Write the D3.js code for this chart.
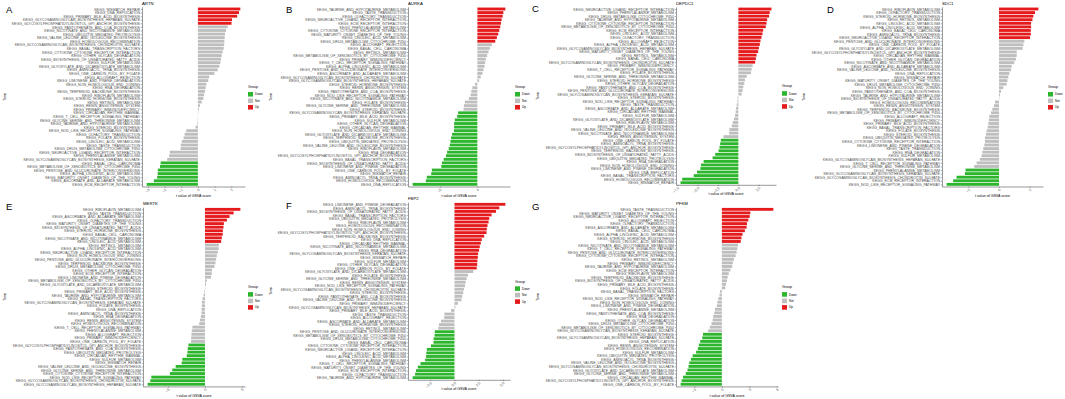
<!DOCTYPE html>
<html>
<head>
<meta charset="utf-8">
<script src="https://cdn.jsdelivr.net/npm/d3@7"></script>
<style>
body { margin: 0; background: #fff; }
svg { display: block; }
</style>
</head>
<body>
<div id="fig"></div>
<script>
// ---- data: terms (KEGG_ prefix added when drawn), t values, [up, not, down] counts, x ticks ----
var artnTerms = ["MISMATCH_REPAIR","DNA_REPLICATION","PRIMARY_BILE_ACID_BIOSYNTHESIS","GLYCOSAMINOGLYCAN_BIOSYNTHESIS_HEPARAN_SULFATE","GLYCOSYLPHOSPHATIDYLINOSITOL_GPI_ANCHOR_BIOSYNTHESIS","PANTOTHENATE_AND_COA_BIOSYNTHESIS","NICOTINATE_AND_NICOTINAMIDE_METABOLISM","UBIQUITIN_MEDIATED_PROTEOLYSIS","VALINE_LEUCINE_AND_ISOLEUCINE_BIOSYNTHESIS","HOMOLOGOUS_RECOMBINATION","GLYCOSAMINOGLYCAN_BIOSYNTHESIS_CHONDROITIN_SULFATE","BASAL_TRANSCRIPTION_FACTORS","CYTOKINE_CYTOKINE_RECEPTOR_INTERACTION","OTHER_GLYCAN_DEGRADATION","BIOSYNTHESIS_OF_UNSATURATED_FATTY_ACIDS","SULFUR_METABOLISM","GLYOXYLATE_AND_DICARBOXYLATE_METABOLISM","AMINOACYL_TRNA_BIOSYNTHESIS","ONE_CARBON_POOL_BY_FOLATE","ALLOGRAFT_REJECTION","LIMONENE_AND_PINENE_DEGRADATION","NON_HOMOLOGOUS_END_JOINING","RNA_DEGRADATION","TERPENOID_BACKBONE_BIOSYNTHESIS","RIBOFLAVIN_METABOLISM","STEROID_HORMONE_BIOSYNTHESIS","RETINOL_METABOLISM","RENIN_ANGIOTENSIN_SYSTEM","PRIMARY_IMMUNODEFICIENCY","CIRCADIAN_RHYTHM_MAMMAL","T_CELL_RECEPTOR_SIGNALING_PATHWAY","GLYCINE_SERINE_AND_THREONINE_METABOLISM","TAURINE_AND_HYPOTAURINE_METABOLISM","STEROID_BIOSYNTHESIS","NOD_LIKE_RECEPTOR_SIGNALING_PATHWAY","OLFACTORY_TRANSDUCTION","FOLATE_BIOSYNTHESIS","LINOLEIC_ACID_METABOLISM","TASTE_TRANSDUCTION","DRUG_METABOLISM_CYTOCHROME_P450","NEUROACTIVE_LIGAND_RECEPTOR_INTERACTION","PHENYLALANINE_METABOLISM","GLYCOSAMINOGLYCAN_BIOSYNTHESIS_KERATAN_SULFATE","BASAL_CELL_CARCINOMA","METABOLISM_OF_XENOBIOTICS_BY_CYTOCHROME_P450","PENTOSE_AND_GLUCURONATE_INTERCONVERSIONS","ALPHA_LINOLENIC_ACID_METABOLISM","MATURITY_ONSET_DIABETES_OF_THE_YOUNG","ASCORBATE_AND_ALDARATE_METABOLISM","ECM_RECEPTOR_INTERACTION"];
var artnT = [2.55,2.47,2.36,2.05,2.02,1.79,1.69,1.63,1.61,1.59,1.58,1.55,1.49,1.43,1.39,1.35,1.29,1.19,0.99,0.68,0.62,0.51,0.47,0.43,0.37,0.33,0.23,0.12,0.06,0.02,0.01,-0.02,-0.04,-0.14,-0.70,-0.80,-0.86,-0.97,-1.03,-1.04,-1.69,-1.73,-1.85,-2.24,-2.28,-2.41,-2.42,-2.45,-2.65,-3.08];
var artnGroups = [5, 38, 7];
var artnTicks = [-3, -2, -1, 0, 1, 2];

var aurkaTerms = ["TAURINE_AND_HYPOTAURINE_METABOLISM","TASTE_TRANSDUCTION","OLFACTORY_TRANSDUCTION","NEUROACTIVE_LIGAND_RECEPTOR_INTERACTION","ECM_RECEPTOR_INTERACTION","PHENYLALANINE_METABOLISM","CYTOKINE_CYTOKINE_RECEPTOR_INTERACTION","MATURITY_ONSET_DIABETES_OF_THE_YOUNG","LINOLEIC_ACID_METABOLISM","DRUG_METABOLISM_CYTOCHROME_P450","ALLOGRAFT_REJECTION","BASAL_CELL_CARCINOMA","RETINOL_METABOLISM","METABOLISM_OF_XENOBIOTICS_BY_CYTOCHROME_P450","PRIMARY_IMMUNODEFICIENCY","T_CELL_RECEPTOR_SIGNALING_PATHWAY","ALPHA_LINOLENIC_ACID_METABOLISM","PENTOSE_AND_GLUCURONATE_INTERCONVERSIONS","ASCORBATE_AND_ALDARATE_METABOLISM","GLYCOSAMINOGLYCAN_BIOSYNTHESIS_CHONDROITIN_SULFATE","GLYCOSAMINOGLYCAN_BIOSYNTHESIS_HEPARAN_SULFATE","STEROID_HORMONE_BIOSYNTHESIS","RENIN_ANGIOTENSIN_SYSTEM","PANTOTHENATE_AND_COA_BIOSYNTHESIS","NOD_LIKE_RECEPTOR_SIGNALING_PATHWAY","NICOTINATE_AND_NICOTINAMIDE_METABOLISM","FOLATE_BIOSYNTHESIS","GLYCINE_SERINE_AND_THREONINE_METABOLISM","STEROID_BIOSYNTHESIS","GLYCOSAMINOGLYCAN_BIOSYNTHESIS_KERATAN_SULFATE","PRIMARY_BILE_ACID_BIOSYNTHESIS","SULFUR_METABOLISM","OTHER_GLYCAN_DEGRADATION","CIRCADIAN_RHYTHM_MAMMAL","NON_HOMOLOGOUS_END_JOINING","GLYOXYLATE_AND_DICARBOXYLATE_METABOLISM","TERPENOID_BACKBONE_BIOSYNTHESIS","UBIQUITIN_MEDIATED_PROTEOLYSIS","VALINE_LEUCINE_AND_ISOLEUCINE_BIOSYNTHESIS","RIBOFLAVIN_METABOLISM","RNA_DEGRADATION","GLYCOSYLPHOSPHATIDYLINOSITOL_GPI_ANCHOR_BIOSYNTHESIS","BASAL_TRANSCRIPTION_FACTORS","BIOSYNTHESIS_OF_UNSATURATED_FATTY_ACIDS","LIMONENE_AND_PINENE_DEGRADATION","ONE_CARBON_POOL_BY_FOLATE","MISMATCH_REPAIR","AMINOACYL_TRNA_BIOSYNTHESIS","HOMOLOGOUS_RECOMBINATION","DNA_REPLICATION"];
var aurkaT = [3.74,3.47,3.38,3.24,3.15,3.06,2.93,2.79,2.61,2.39,1.94,1.67,1.49,1.30,1.13,1.04,0.95,0.81,0.68,0.45,0.23,-0.32,-0.68,-0.81,-0.90,-1.13,-1.67,-1.80,-1.85,-2.57,-2.70,-3.02,-3.11,-3.11,-3.13,-3.38,-3.51,-3.60,-3.69,-3.83,-4.05,-4.19,-4.50,-4.73,-4.82,-6.08,-6.17,-6.76,-6.89,-8.65];
var aurkaGroups = [10, 19, 21];
var aurkaTicks = [-5, 0];

var depdc1Terms = ["NEUROACTIVE_LIGAND_RECEPTOR_INTERACTION","PHENYLALANINE_METABOLISM","DRUG_METABOLISM_CYTOCHROME_P450","TAURINE_AND_HYPOTAURINE_METABOLISM","CYTOKINE_CYTOKINE_RECEPTOR_INTERACTION","METABOLISM_OF_XENOBIOTICS_BY_CYTOCHROME_P450","ECM_RECEPTOR_INTERACTION","LINOLEIC_ACID_METABOLISM","OLFACTORY_TRANSDUCTION","ALLOGRAFT_REJECTION","ALPHA_LINOLENIC_ACID_METABOLISM","GLYCOSAMINOGLYCAN_BIOSYNTHESIS_HEPARAN_SULFATE","MATURITY_ONSET_DIABETES_OF_THE_YOUNG","RETINOL_METABOLISM","BASAL_CELL_CARCINOMA","GLYCOSAMINOGLYCAN_BIOSYNTHESIS_CHONDROITIN_SULFATE","PRIMARY_IMMUNODEFICIENCY","T_CELL_RECEPTOR_SIGNALING_PATHWAY","FOLATE_BIOSYNTHESIS","GLYCINE_SERINE_AND_THREONINE_METABOLISM","STEROID_HORMONE_BIOSYNTHESIS","OTHER_GLYCAN_DEGRADATION","PANTOTHENATE_AND_COA_BIOSYNTHESIS","PENTOSE_AND_GLUCURONATE_INTERCONVERSIONS","GLYCOSAMINOGLYCAN_BIOSYNTHESIS_KERATAN_SULFATE","STEROID_BIOSYNTHESIS","NOD_LIKE_RECEPTOR_SIGNALING_PATHWAY","TASTE_TRANSDUCTION","ASCORBATE_AND_ALDARATE_METABOLISM","CIRCADIAN_RHYTHM_MAMMAL","SULFUR_METABOLISM","GLYOXYLATE_AND_DICARBOXYLATE_METABOLISM","RIBOFLAVIN_METABOLISM","PRIMARY_BILE_ACID_BIOSYNTHESIS","VALINE_LEUCINE_AND_ISOLEUCINE_BIOSYNTHESIS","NICOTINATE_AND_NICOTINAMIDE_METABOLISM","RENIN_ANGIOTENSIN_SYSTEM","ONE_CARBON_POOL_BY_FOLATE","AMINOACYL_TRNA_BIOSYNTHESIS","GLYCOSYLPHOSPHATIDYLINOSITOL_GPI_ANCHOR_BIOSYNTHESIS","TERPENOID_BACKBONE_BIOSYNTHESIS","BIOSYNTHESIS_OF_UNSATURATED_FATTY_ACIDS","UBIQUITIN_MEDIATED_PROTEOLYSIS","RNA_DEGRADATION","NON_HOMOLOGOUS_END_JOINING","LIMONENE_AND_PINENE_DEGRADATION","DNA_REPLICATION","BASAL_TRANSCRIPTION_FACTORS","HOMOLOGOUS_RECOMBINATION","MISMATCH_REPAIR"];
var depdc1T = [4.07,3.86,3.78,3.54,3.46,3.37,3.05,2.97,2.85,2.72,2.64,2.52,2.44,2.24,2.15,2.07,1.75,1.63,1.54,1.02,0.81,0.73,0.61,0.53,0.41,-0.08,-0.12,-0.20,-0.28,-0.33,-0.41,-0.53,-0.69,-0.81,-1.10,-1.14,-1.83,-2.15,-2.24,-2.32,-2.44,-2.85,-3.17,-4.27,-4.59,-4.67,-5.08,-5.49,-6.91,-7.11];
var depdc1Groups = [16, 21, 13];
var depdc1Ticks = [-7.5, -5, -2.5, 0, 2.5];

var sdc1Terms = ["RIBOFLAVIN_METABOLISM","OLFACTORY_TRANSDUCTION","STEROID_HORMONE_BIOSYNTHESIS","RETINOL_METABOLISM","LINOLEIC_ACID_METABOLISM","ALPHA_LINOLENIC_ACID_METABOLISM","BASAL_CELL_CARCINOMA","AMINOACYL_TRNA_BIOSYNTHESIS","NEUROACTIVE_LIGAND_RECEPTOR_INTERACTION","PENTOSE_AND_GLUCURONATE_INTERCONVERSIONS","ONE_CARBON_POOL_BY_FOLATE","GLYOXYLATE_AND_DICARBOXYLATE_METABOLISM","GLYCOSYLPHOSPHATIDYLINOSITOL_GPI_ANCHOR_BIOSYNTHESIS","CIRCADIAN_RHYTHM_MAMMAL","OTHER_GLYCAN_DEGRADATION","NICOTINATE_AND_NICOTINAMIDE_METABOLISM","ASCORBATE_AND_ALDARATE_METABOLISM","VALINE_LEUCINE_AND_ISOLEUCINE_BIOSYNTHESIS","DNA_REPLICATION","MISMATCH_REPAIR","MATURITY_ONSET_DIABETES_OF_THE_YOUNG","DRUG_METABOLISM_CYTOCHROME_P450","NON_HOMOLOGOUS_END_JOINING","PANTOTHENATE_AND_COA_BIOSYNTHESIS","TAURINE_AND_HYPOTAURINE_METABOLISM","BIOSYNTHESIS_OF_UNSATURATED_FATTY_ACIDS","HOMOLOGOUS_RECOMBINATION","RENIN_ANGIOTENSIN_SYSTEM","TERPENOID_BACKBONE_BIOSYNTHESIS","METABOLISM_OF_XENOBIOTICS_BY_CYTOCHROME_P450","ALLOGRAFT_REJECTION","PRIMARY_IMMUNODEFICIENCY","PRIMARY_BILE_ACID_BIOSYNTHESIS","BASAL_TRANSCRIPTION_FACTORS","FOLATE_BIOSYNTHESIS","STEROID_BIOSYNTHESIS","UBIQUITIN_MEDIATED_PROTEOLYSIS","CYTOKINE_CYTOKINE_RECEPTOR_INTERACTION","LIMONENE_AND_PINENE_DEGRADATION","TASTE_TRANSDUCTION","RNA_DEGRADATION","SULFUR_METABOLISM","GLYCOSAMINOGLYCAN_BIOSYNTHESIS_HEPARAN_SULFATE","T_CELL_RECEPTOR_SIGNALING_PATHWAY","GLYCINE_SERINE_AND_THREONINE_METABOLISM","PHENYLALANINE_METABOLISM","GLYCOSAMINOGLYCAN_BIOSYNTHESIS_KERATAN_SULFATE","GLYCOSAMINOGLYCAN_BIOSYNTHESIS_CHONDROITIN_SULFATE","ECM_RECEPTOR_INTERACTION","NOD_LIKE_RECEPTOR_SIGNALING_PATHWAY"];
var sdc1T = [2.58,2.36,2.25,2.19,2.10,2.10,2.08,2.08,2.03,1.66,1.60,1.55,1.16,1.16,1.11,1.00,0.83,0.79,0.68,0.61,0.55,0.50,0.28,0.13,0.07,0.02,-0.26,-0.33,-0.44,-0.52,-0.63,-0.66,-0.70,-0.74,-0.81,-0.85,-0.92,-0.92,-0.96,-1.03,-1.09,-1.14,-1.25,-1.46,-1.62,-2.19,-2.23,-2.78,-3.00,-3.43];
var sdc1Groups = [9, 36, 5];
var sdc1Ticks = [-2, 0, 2];

var mertkTerms = ["RIBOFLAVIN_METABOLISM","TASTE_TRANSDUCTION","ASCORBATE_AND_ALDARATE_METABOLISM","OLFACTORY_TRANSDUCTION","MATURITY_ONSET_DIABETES_OF_THE_YOUNG","BIOSYNTHESIS_OF_UNSATURATED_FATTY_ACIDS","STEROID_HORMONE_BIOSYNTHESIS","BASAL_CELL_CARCINOMA","NICOTINATE_AND_NICOTINAMIDE_METABOLISM","LINOLEIC_ACID_METABOLISM","RETINOL_METABOLISM","ALPHA_LINOLENIC_ACID_METABOLISM","NEUROACTIVE_LIGAND_RECEPTOR_INTERACTION","NON_HOMOLOGOUS_END_JOINING","PENTOSE_AND_GLUCURONATE_INTERCONVERSIONS","TERPENOID_BACKBONE_BIOSYNTHESIS","DRUG_METABOLISM_CYTOCHROME_P450","OTHER_GLYCAN_DEGRADATION","ECM_RECEPTOR_INTERACTION","LIMONENE_AND_PINENE_DEGRADATION","METABOLISM_OF_XENOBIOTICS_BY_CYTOCHROME_P450","GLYOXYLATE_AND_DICARBOXYLATE_METABOLISM","STEROID_BIOSYNTHESIS","PRIMARY_BILE_ACID_BIOSYNTHESIS","TAURINE_AND_HYPOTAURINE_METABOLISM","BASAL_TRANSCRIPTION_FACTORS","GLYCOSAMINOGLYCAN_BIOSYNTHESIS_KERATAN_SULFATE","FOLATE_BIOSYNTHESIS","DNA_REPLICATION","AMINOACYL_TRNA_BIOSYNTHESIS","RNA_DEGRADATION","RENIN_ANGIOTENSIN_SYSTEM","HOMOLOGOUS_RECOMBINATION","T_CELL_RECEPTOR_SIGNALING_PATHWAY","PHENYLALANINE_METABOLISM","ALLOGRAFT_REJECTION","PRIMARY_IMMUNODEFICIENCY","ONE_CARBON_POOL_BY_FOLATE","GLYCOSYLPHOSPHATIDYLINOSITOL_GPI_ANCHOR_BIOSYNTHESIS","PANTOTHENATE_AND_COA_BIOSYNTHESIS","UBIQUITIN_MEDIATED_PROTEOLYSIS","CIRCADIAN_RHYTHM_MAMMAL","SULFUR_METABOLISM","MISMATCH_REPAIR","VALINE_LEUCINE_AND_ISOLEUCINE_BIOSYNTHESIS","GLYCINE_SERINE_AND_THREONINE_METABOLISM","CYTOKINE_CYTOKINE_RECEPTOR_INTERACTION","NOD_LIKE_RECEPTOR_SIGNALING_PATHWAY","GLYCOSAMINOGLYCAN_BIOSYNTHESIS_CHONDROITIN_SULFATE","GLYCOSAMINOGLYCAN_BIOSYNTHESIS_HEPARAN_SULFATE"];
var mertkT = [4.79,3.88,3.33,2.97,2.56,2.51,2.42,2.40,2.28,2.19,1.87,1.85,1.74,1.60,1.51,1.42,1.28,0.96,0.91,0.82,0.23,0.14,0.05,-0.09,-0.18,-0.32,-0.41,-0.43,-0.46,-0.47,-0.55,-0.68,-0.78,-1.69,-1.78,-1.83,-1.87,-1.88,-2.24,-2.33,-2.37,-2.47,-3.06,-3.15,-3.97,-4.43,-4.75,-7.26,-7.40,-7.76];
var mertkGroups = [10, 28, 12];
var mertkTicks = [-5, 0, 5];

var fbp2Terms = ["LIMONENE_AND_PINENE_DEGRADATION","AMINOACYL_TRNA_BIOSYNTHESIS","BIOSYNTHESIS_OF_UNSATURATED_FATTY_ACIDS","BASAL_TRANSCRIPTION_FACTORS","UBIQUITIN_MEDIATED_PROTEOLYSIS","RIBOFLAVIN_METABOLISM","HOMOLOGOUS_RECOMBINATION","NON_HOMOLOGOUS_END_JOINING","GLYCOSYLPHOSPHATIDYLINOSITOL_GPI_ANCHOR_BIOSYNTHESIS","TERPENOID_BACKBONE_BIOSYNTHESIS","DNA_REPLICATION","CIRCADIAN_RHYTHM_MAMMAL","NICOTINATE_AND_NICOTINAMIDE_METABOLISM","RNA_DEGRADATION","GLYCOSAMINOGLYCAN_BIOSYNTHESIS_KERATAN_SULFATE","MISMATCH_REPAIR","SULFUR_METABOLISM","OTHER_GLYCAN_DEGRADATION","ONE_CARBON_POOL_BY_FOLATE","GLYOXYLATE_AND_DICARBOXYLATE_METABOLISM","FOLATE_BIOSYNTHESIS","GLYCINE_SERINE_AND_THREONINE_METABOLISM","RENIN_ANGIOTENSIN_SYSTEM","NOD_LIKE_RECEPTOR_SIGNALING_PATHWAY","GLYCOSAMINOGLYCAN_BIOSYNTHESIS_CHONDROITIN_SULFATE","STEROID_BIOSYNTHESIS","PANTOTHENATE_AND_COA_BIOSYNTHESIS","VALINE_LEUCINE_AND_ISOLEUCINE_BIOSYNTHESIS","PRIMARY_IMMUNODEFICIENCY","GLYCOSAMINOGLYCAN_BIOSYNTHESIS_HEPARAN_SULFATE","PRIMARY_BILE_ACID_BIOSYNTHESIS","TASTE_TRANSDUCTION","ALLOGRAFT_REJECTION","ASCORBATE_AND_ALDARATE_METABOLISM","STEROID_HORMONE_BIOSYNTHESIS","RETINOL_METABOLISM","PENTOSE_AND_GLUCURONATE_INTERCONVERSIONS","METABOLISM_OF_XENOBIOTICS_BY_CYTOCHROME_P450","DRUG_METABOLISM_CYTOCHROME_P450","BASAL_CELL_CARCINOMA","CYTOKINE_CYTOKINE_RECEPTOR_INTERACTION","NEUROACTIVE_LIGAND_RECEPTOR_INTERACTION","LINOLEIC_ACID_METABOLISM","ALPHA_LINOLENIC_ACID_METABOLISM","PHENYLALANINE_METABOLISM","T_CELL_RECEPTOR_SIGNALING_PATHWAY","MATURITY_ONSET_DIABETES_OF_THE_YOUNG","ECM_RECEPTOR_INTERACTION","OLFACTORY_TRANSDUCTION","TAURINE_AND_HYPOTAURINE_METABOLISM"];
var fbp2T = [5.24,4.62,4.27,3.82,3.58,3.51,3.40,3.33,3.30,3.06,2.81,2.71,2.60,2.53,2.43,2.40,2.36,2.34,2.29,1.94,1.39,1.25,1.15,1.08,0.97,0.90,0.80,0.73,0.35,0.10,-0.35,-1.04,-1.06,-1.39,-1.60,-1.67,-2.03,-2.05,-2.15,-2.16,-2.43,-2.85,-2.90,-2.92,-3.02,-3.50,-3.78,-3.96,-4.06,-4.31];
var fbp2Groups = [19, 17, 14];
var fbp2Ticks = [-2.5, 0, 2.5, 5];

var pfkmTerms = ["TASTE_TRANSDUCTION","MATURITY_ONSET_DIABETES_OF_THE_YOUNG","NEUROACTIVE_LIGAND_RECEPTOR_INTERACTION","ALLOGRAFT_REJECTION","OLFACTORY_TRANSDUCTION","ASCORBATE_AND_ALDARATE_METABOLISM","BASAL_CELL_CARCINOMA","ALPHA_LINOLENIC_ACID_METABOLISM","STEROID_HORMONE_BIOSYNTHESIS","LINOLEIC_ACID_METABOLISM","NICOTINATE_AND_NICOTINAMIDE_METABOLISM","T_CELL_RECEPTOR_SIGNALING_PATHWAY","PENTOSE_AND_GLUCURONATE_INTERCONVERSIONS","CYTOKINE_CYTOKINE_RECEPTOR_INTERACTION","RETINOL_METABOLISM","PRIMARY_IMMUNODEFICIENCY","TAURINE_AND_HYPOTAURINE_METABOLISM","ECM_RECEPTOR_INTERACTION","RIBOFLAVIN_METABOLISM","TERPENOID_BACKBONE_BIOSYNTHESIS","BIOSYNTHESIS_OF_UNSATURATED_FATTY_ACIDS","PRIMARY_BILE_ACID_BIOSYNTHESIS","FOLATE_BIOSYNTHESIS","BASAL_TRANSCRIPTION_FACTORS","MISMATCH_REPAIR","NOD_LIKE_RECEPTOR_SIGNALING_PATHWAY","NON_HOMOLOGOUS_END_JOINING","LIMONENE_AND_PINENE_DEGRADATION","PHENYLALANINE_METABOLISM","PANTOTHENATE_AND_COA_BIOSYNTHESIS","RNA_DEGRADATION","OTHER_GLYCAN_DEGRADATION","DRUG_METABOLISM_CYTOCHROME_P450","METABOLISM_OF_XENOBIOTICS_BY_CYTOCHROME_P450","GLYCOSAMINOGLYCAN_BIOSYNTHESIS_KERATAN_SULFATE","STEROID_BIOSYNTHESIS","GLYCOSAMINOGLYCAN_BIOSYNTHESIS_HEPARAN_SULFATE","DNA_REPLICATION","RENIN_ANGIOTENSIN_SYSTEM","HOMOLOGOUS_RECOMBINATION","SULFUR_METABOLISM","UBIQUITIN_MEDIATED_PROTEOLYSIS","AMINOACYL_TRNA_BIOSYNTHESIS","VALINE_LEUCINE_AND_ISOLEUCINE_BIOSYNTHESIS","GLYCOSAMINOGLYCAN_BIOSYNTHESIS_CHONDROITIN_SULFATE","GLYOXYLATE_AND_DICARBOXYLATE_METABOLISM","GLYCINE_SERINE_AND_THREONINE_METABOLISM","CIRCADIAN_RHYTHM_MAMMAL","GLYCOSYLPHOSPHATIDYLINOSITOL_GPI_ANCHOR_BIOSYNTHESIS","ONE_CARBON_POOL_BY_FOLATE"];
var pfkmT = [5.62,3.11,3.04,2.89,2.74,2.70,2.51,2.25,2.14,2.06,1.76,1.69,1.61,1.50,1.31,1.20,1.13,0.94,0.75,0.64,0.56,0.45,0.38,-0.19,-0.26,-0.38,-0.49,-0.56,-0.75,-0.83,-0.94,-1.01,-1.13,-1.31,-1.50,-2.06,-2.14,-2.36,-2.51,-2.62,-2.81,-3.19,-3.38,-3.56,-3.64,-3.75,-3.94,-4.24,-4.39,-4.50];
var pfkmGroups = [10, 25, 15];
var pfkmTicks = [-3, 0, 3, 6];

var groupNames = ["Down", "Not", "Up"];
var fills = {Down: "#2DB52D", Not: "#BEBEBE", Up: "#E41A1C"};
var font = "'Liberation Sans', Arial, Helvetica, sans-serif";

// panel placement
var panels = [
  {letter: "A", gene: "ARTN",   terms: artnTerms,   t: artnT,   groups: artnGroups,   ticks: artnTicks,   fmt: d3.format("d"),
   lx: 6,   ly: 12.5,  left: 142, right: 245,  top: 6.85,  bottom: 186.5, legX: 248,  termX: 5.5},
  {letter: "B", gene: "AURKA",  terms: aurkaTerms,  t: aurkaT,  groups: aurkaGroups,  ticks: aurkaTicks,  fmt: d3.format("d"),
   lx: 286, ly: 12.5,  left: 408, right: 510,  top: 6.85,  bottom: 186.5, legX: 515,  termX: 271.5},
  {letter: "C", gene: "DEPDC1", terms: depdc1Terms, t: depdc1T, groups: depdc1Groups, ticks: depdc1Ticks, fmt: d3.format(".1f"),
   lx: 532, ly: 11.5,  left: 676, right: 776,  top: 6.9,   bottom: 184.8, legX: 782,  termX: 538.5},
  {letter: "D", gene: "SDC1",   terms: sdc1Terms,   t: sdc1T,   groups: sdc1Groups,   ticks: sdc1Ticks,   fmt: d3.format("d"),
   lx: 827, ly: 12.5,  left: 942, right: 1043, top: 6.85,  bottom: 186.5, legX: 1048, termX: 804.5},
  {letter: "E", gene: "MERTK",  terms: mertkTerms,  t: mertkT,  groups: mertkGroups,  ticks: mertkTicks,  fmt: d3.format("d"),
   lx: 6,   ly: 209.5, left: 143, right: 245,  top: 207.2, bottom: 386.4, legX: 248,  termX: 5.5},
  {letter: "F", gene: "FBP2",   terms: fbp2Terms,   t: fbp2T,   groups: fbp2Groups,   ticks: fbp2Ticks,   fmt: d3.format(".1f"),
   lx: 286, ly: 208.5, left: 408, right: 510,  top: 202.2, bottom: 379.8, legX: 515,  termX: 271.5},
  {letter: "G", gene: "PFKM",   terms: pfkmTerms,   t: pfkmT,   groups: pfkmGroups,   ticks: pfkmTicks,   fmt: d3.format("d"),
   lx: 532, ly: 209.5, left: 676, right: 778,  top: 207.2, bottom: 386.4, legX: 782,  termX: 538.5}
];

var svg = d3.select("#fig").append("svg")
    .attr("width", 1065)
    .attr("height", 399)
    .style("font-family", font);

panels.forEach(function(p) {
  var n = p.terms.length;
  var rows = p.terms.map(function(d, i) {
    var grp = i < p.groups[0] ? "Up" : (i >= n - p.groups[2] ? "Down" : "Not");
    return {term: d, t: p.t[i], group: grp};
  });

  // ggplot-like 5% expansion of the value range (0 included)
  var ext = d3.extent(p.t.concat([0]));
  var pad = (ext[1] - ext[0]) * 0.05;
  var x = d3.scaleLinear().domain([ext[0] - pad, ext[1] + pad]).range([p.left, p.right]);
  var y = d3.scalePoint().domain(p.terms).range([p.top, p.bottom]).padding(0.6);
  var bh = y.step() * 0.8;

  var g = svg.append("g");

  g.selectAll(".bar")
    .data(rows)
    .enter()
    .append("rect")
    .attr("class", "bar")
    .attr("x", function(d) { return Math.min(x(0), x(d.t)); })
    .attr("y", function(d) { return y(d.term) - bh / 2; })
    .attr("width", function(d) { return Math.abs(x(d.t) - x(0)); })
    .attr("height", bh)
    .attr("fill", function(d) { return fills[d.group]; });

  // y axis (terms)
  var ya = g.append("g")
    .attr("transform", "translate(" + p.left + ",0)")
    .call(d3.axisLeft(y).tickSize(1.2).tickSizeOuter(0).tickPadding(0.8)
      .tickFormat(function(d) { return "KEGG_" + d; }));
  ya.attr("font-family", font).attr("font-size", 3.55);
  ya.selectAll("text").attr("fill", "#4d4d4d");
  ya.select(".domain").attr("stroke", "#333").attr("stroke-width", 0.5);
  ya.selectAll(".tick line").attr("stroke", "#333").attr("stroke-width", 0.4);

  // x axis
  var xa = g.append("g")
    .attr("transform", "translate(0," + p.bottom + ")")
    .call(d3.axisBottom(x).tickValues(p.ticks).tickSize(1.2).tickSizeOuter(0).tickFormat(p.fmt));
  xa.attr("font-family", font).attr("font-size", 3.6);
  xa.selectAll("text")
    .attr("fill", "#4d4d4d")
    .attr("x", 0).attr("y", 0).attr("dy", "0.35em")
    .attr("transform", "translate(0.6,2.6) rotate(-45)")
    .style("text-anchor", "end");
  xa.select(".domain").attr("stroke", "#333").attr("stroke-width", 0.5);
  xa.selectAll(".tick line").attr("stroke", "#333").attr("stroke-width", 0.4);

  // axis titles
  g.append("text")
    .attr("x", (p.left + p.right) / 2)
    .attr("y", p.bottom + 10.5)
    .attr("text-anchor", "middle")
    .attr("font-size", 3.6)
    .text("t value of GSVA score");

  g.append("text")
    .attr("transform", "translate(" + p.termX + "," + ((p.top + p.bottom) / 2) + ") rotate(-90)")
    .attr("text-anchor", "middle")
    .attr("font-size", 3.6)
    .text("Term");

  // gene title
  g.append("text")
    .attr("x", p.left)
    .attr("y", p.top - 2)
    .attr("font-size", 4.3)
    .text(p.gene);

  // panel letter
  g.append("text")
    .attr("x", p.lx)
    .attr("y", p.ly)
    .attr("font-size", 9.5)
    .text(p.letter);

  // legend
  var mid = (p.top + p.bottom) / 2;
  var lg = g.append("g").attr("transform", "translate(" + p.legX + "," + mid + ")");
  lg.append("text").attr("x", 0).attr("y", -8.4).attr("font-size", 3.6).text("Group");
  groupNames.forEach(function(k, i) {
    lg.append("rect")
      .attr("x", 0).attr("y", -4.7 + i * 6.5)
      .attr("width", 5).attr("height", 4.6)
      .attr("fill", fills[k]);
    lg.append("text")
      .attr("x", 7).attr("y", -4.7 + i * 6.5 + 3.4)
      .attr("font-size", 3)
      .text(k);
  });
});
</script>
</body>
</html>
